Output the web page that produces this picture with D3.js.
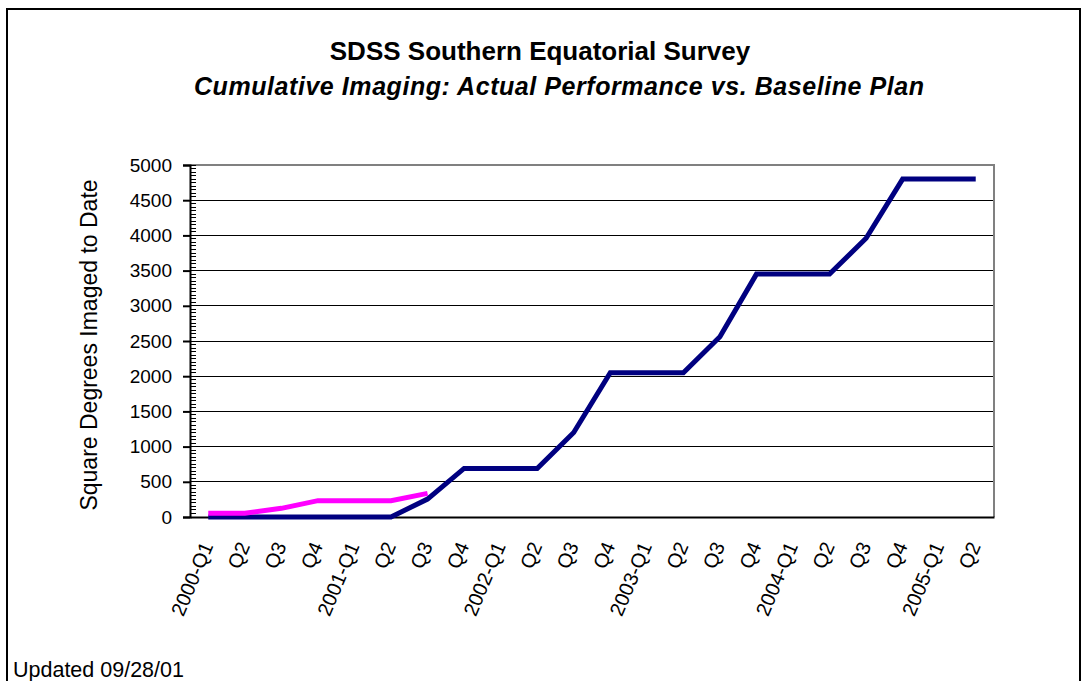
<!DOCTYPE html>
<html>
<head>
<meta charset="utf-8">
<script src="https://cdn.jsdelivr.net/npm/d3@7/dist/d3.min.js"></script>
<style>
  html, body { margin: 0; padding: 0; background: #fff; }
  svg { display: block; font-family: Arial, "Liberation Sans", sans-serif; }
</style>
</head>
<body>
<svg id="chart" width="1084" height="681"></svg>
<script>
// ---- data ----
const categories = ["2000-Q1","Q2","Q3","Q4","2001-Q1","Q2","Q3","Q4","2002-Q1","Q2","Q3","Q4",
                    "2003-Q1","Q2","Q3","Q4","2004-Q1","Q2","Q3","Q4","2005-Q1","Q2"];
const baselinePlan = [0,0,0,0,0,0,255,690,690,690,1200,2050,2050,2050,2560,3450,3450,3450,3960,4800,4800,4800];
const actualPerformance = [52,52,123,232,232,232,336];
const yTicks = [0,500,1000,1500,2000,2500,3000,3500,4000,4500,5000];
const titleText = "SDSS Southern Equatorial Survey";
const subtitleText = "Cumulative Imaging: Actual Performance vs. Baseline Plan";
const yLabelText = "Square Degrees Imaged to Date";
const footerText = "Updated 09/28/01";

// ---- layout ----
const plot = { left: 190, right: 994, top: 165, bottom: 517 };
const svg = d3.select("#chart");
const FONT = "Arial, 'Liberation Sans', sans-serif";

// outer frame
svg.append("rect").attr("x", 7).attr("y", 9).attr("width", 1073).attr("height", 690)
   .attr("fill", "#fff").attr("stroke", "#000").attr("stroke-width", 2);

// scales
const x = d3.scaleBand().domain(d3.range(categories.length)).range([plot.left, plot.right]).padding(0);
const xc = i => x(i) + x.bandwidth() / 2;
const y = d3.scaleLinear().domain([0, 5000]).range([plot.bottom, plot.top]);

// gridlines
svg.append("g").selectAll("line").data(yTicks.filter(v => v > 0 && v < 5000)).join("line")
   .attr("x1", plot.left).attr("x2", plot.right)
   .attr("y1", d => y(d)).attr("y2", d => y(d))
   .attr("stroke", "#000").attr("stroke-width", 1).attr("shape-rendering", "crispEdges");

// plot border top/right (gray)
svg.append("path")
   .attr("d", `M${plot.left},${y(5000)}H${plot.right}V${plot.bottom}`)
   .attr("fill", "none").attr("stroke", "#808080").attr("stroke-width", 2);

// minor ticks inside
const minor = d3.range(0, 5001, 50);
svg.append("g").selectAll("line").data(minor).join("line")
   .attr("x1", plot.left).attr("x2", plot.left + 6)
   .attr("y1", d => y(d)).attr("y2", d => y(d))
   .attr("stroke", "#000").attr("stroke-width", 1).attr("shape-rendering", "crispEdges");

// y axis
const yAxis = d3.axisLeft(y).tickValues(yTicks).tickSize(7).tickPadding(11).tickFormat(d3.format("d"));
const gy = svg.append("g").attr("transform", `translate(${plot.left},0)`).call(yAxis);
gy.select(".domain").attr("stroke", "#000").attr("stroke-width", 2);
gy.selectAll(".tick line").attr("stroke", "#000").attr("stroke-width", 2);
gy.selectAll(".tick text").attr("font-size", 19).attr("font-family", FONT).attr("fill", "#000");

// x axis (no ticks)
const xAxis = d3.axisBottom(x).tickSize(0).tickFormat(i => categories[i]);
const gx = svg.append("g").attr("transform", `translate(0,${plot.bottom})`).call(xAxis);
gx.select(".domain").attr("stroke", "#000").attr("stroke-width", 2);
gx.selectAll(".tick text")
   .attr("font-size", 20).attr("font-family", FONT).attr("fill", "#000")
   .attr("text-anchor", "end")
   .attr("dy", "0.35em")
   .attr("transform", "translate(-1,26) rotate(-67)")
   .attr("x", 0).attr("y", 0);

// lines
const line = d3.line().x((d, i) => xc(i)).y(d => y(d));
svg.append("path").datum(baselinePlan).attr("d", line)
   .attr("fill", "none").attr("stroke", "#000080").attr("stroke-width", 5).attr("stroke-linejoin", "miter");
svg.append("path").datum(actualPerformance).attr("d", line)
   .attr("fill", "none").attr("stroke", "#FF00FF").attr("stroke-width", 5).attr("stroke-linejoin", "miter");

// titles
svg.append("text").attr("x", 540).attr("y", 60).attr("text-anchor", "middle")
   .attr("font-size", 26).attr("font-weight", "bold").text(titleText);
svg.append("text").attr("x", 559).attr("y", 95).attr("text-anchor", "middle")
   .attr("font-size", 25).attr("font-weight", "bold").attr("font-style", "italic")
   .attr("textLength", 730).attr("lengthAdjust", "spacing").text(subtitleText);

// y label
svg.append("text").attr("transform", `translate(97,345) rotate(-90)`)
   .attr("text-anchor", "middle").attr("font-size", 23).text(yLabelText);

// footer
svg.append("text").attr("x", 13).attr("y", 677).attr("font-size", 21.5).text(footerText);
</script>
</body>
</html>
